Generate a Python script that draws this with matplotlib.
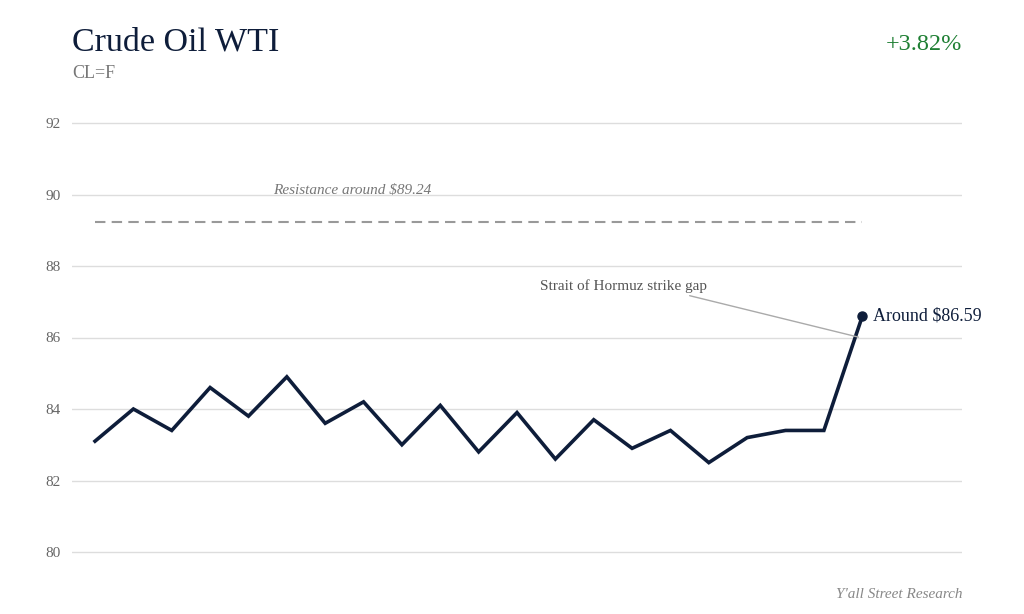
import matplotlib
matplotlib.use("Agg")
import matplotlib.pyplot as plt

prices = [83.1, 84.0, 83.4, 84.6, 83.8, 84.9, 83.6, 84.2, 83.0, 84.1, 82.8,
          83.9, 82.6, 83.7, 82.9, 83.4, 82.5, 83.2, 83.4, 83.4, 86.59]
yticks = [80, 82, 84, 86, 88, 90, 92]
resistance = 89.24
title = "Crude Oil WTI"
subtitle = "CL=F"
change = "+3.82%"
source = "Y'all Street Research"

NAVY = "#0e1d3a"
plt.rcParams['font.family'] = ['Liberation Serif', 'DejaVu Serif']

fig = plt.figure(figsize=(10.24, 6.14), dpi=100)
W, H = 1024, 614
ylo, yhi = 79.8, 92.2
ppu = (552 - 123) / 12.0
top_px = 123 - (yhi - 92) * ppu
bot_px = 552 + (80 - ylo) * ppu
left_px, right_px = 72, 962
ax = fig.add_axes([left_px / W, 1 - bot_px / H, (right_px - left_px) / W, (bot_px - top_px) / H])

xs = list(range(len(prices)))
ax.plot(xs, prices, color=NAVY, lw=2.6, solid_joinstyle='miter', zorder=3)
ax.plot([xs[-1]], [prices[-1]], 'o', color=NAVY, ms=6.5, zorder=4)
ax.plot([xs[0], xs[-1]], [resistance, resistance], color="#999999", lw=1.5,
        dashes=(5, 3), zorder=2)

ax.set_xlim(-0.6, 22.6)
ax.set_ylim(ylo, yhi)
ax.set_yticks(yticks)
ax.set_xticks([])
ax.grid(axis='y', color="#dddddd", lw=1)
ax.set_axisbelow(True)
for s in ax.spines.values():
    s.set_visible(False)
ax.tick_params(axis='y', length=0, labelsize=11, labelcolor="#666666", pad=8)

ax.text(6.7, 90.1, "Resistance around $89.24", style='italic', color="#777777",
        fontsize=11, ha='center', va='center')
ax.annotate("Strait of Hormuz strike gap", xy=(19.9, 86.01), xytext=(13.77, 87.44),
            fontsize=11, color="#555555", ha='center', va='center',
            arrowprops=dict(arrowstyle='-', color="#aaaaaa", lw=1,
                            relpos=(0.83, 0.0), shrinkA=0, shrinkB=0))
ax.annotate("Around $86.59", xy=(xs[-1], prices[-1]), xytext=(8, 0),
            textcoords='offset points', fontsize=13, color=NAVY, va='center', ha='left')

fig.text(72 / W, 1 - 42 / H, title, fontsize=24.5, color=NAVY, ha='left', va='center')
fig.text(72 / W, 1 - 73 / H, subtitle, fontsize=13, color="#777777", ha='left', va='center')
fig.text(962 / W, 1 - 45 / H, change, fontsize=17.5, color="#1e7f33", ha='right', va='center')
fig.text(962 / W, 1 - 595 / H, source, fontsize=11, style='italic', color="#888888",
         ha='right', va='center')

fig.savefig("out.png", dpi=100, facecolor='white')
